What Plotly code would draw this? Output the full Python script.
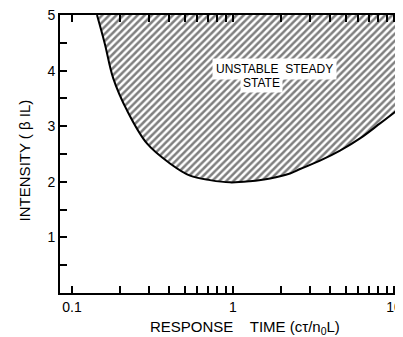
import numpy as np
import plotly.graph_objects as go

# Boundary of the unstable steady-state region
response_time = [0.143, 0.160, 0.180, 0.220, 0.292, 0.406, 0.541, 0.720, 0.958,
                 1.27, 1.70, 2.26, 2.61, 3.47, 4.62, 6.15, 8.19, 11.4]
intensity = [5.0, 4.48, 3.87, 3.28, 2.69, 2.33, 2.11, 2.03, 1.99,
             2.01, 2.06, 2.15, 2.23, 2.38, 2.56, 2.78, 3.05, 3.37]
intensity_max = 5.0

x_tickvals = [0.1, 0.2, 0.3, 0.4, 0.5, 0.6, 0.7, 0.8, 0.9,
              1, 2, 3, 4, 5, 6, 7, 8, 9, 10]
x_ticktext = ["0.1", "", "", "", "", "", "", "", "",
              "1", "", "", "", "", "", "", "", "", "10"]
y_tickvals = [0.5, 1, 1.5, 2, 2.5, 3, 3.5, 4, 4.5, 5]
y_ticktext = ["", "1", "", "2", "", "3", "", "4", "", "5"]

FONT = "Liberation Sans, Arial, sans-serif"

fig = go.Figure()
fig.add_trace(go.Scatter(x=response_time, y=[intensity_max] * len(response_time),
                         mode="lines", line=dict(color="black", width=0),
                         showlegend=False, hoverinfo="skip"))
fig.add_trace(go.Scatter(x=response_time, y=intensity, mode="lines",
                         line=dict(color="black", width=2, shape="spline"),
                         fill="tonexty", fillcolor="white",
                         fillpattern=dict(shape="/", size=5, solidity=0.5,
                                          fgcolor="black", bgcolor="white"),
                         showlegend=False))
# invisible trace to attach right-hand tick axis
fig.add_trace(go.Scatter(x=[response_time[0]], y=[intensity_max], yaxis="y2",
                         mode="markers", marker=dict(opacity=0),
                         showlegend=False, hoverinfo="skip"))

fig.add_annotation(x=np.log10(1.82), y=4.03, xref="x", yref="y",
                   text="UNSTABLE  STEADY", showarrow=False,
                   font=dict(family=FONT, size=12, color="black"),
                   bgcolor="white", borderpad=3)
fig.add_annotation(x=np.log10(1.51), y=3.78, xref="x", yref="y",
                   text="STATE", showarrow=False,
                   font=dict(family=FONT, size=12, color="black"),
                   bgcolor="white", borderpad=2)

# axis titles
fig.add_annotation(x=0.539, y=-0.125, xref="paper", yref="paper",
                   xanchor="center", yanchor="middle",
                   text="RESPONSE&nbsp;&nbsp;&nbsp; TIME (cτ/n<sub>0</sub>L)",
                   showarrow=False, font=dict(family=FONT, size=15, color="black"))
fig.add_annotation(x=-0.105, y=0.477, xref="paper", yref="paper",
                   xanchor="center", yanchor="middle",
                   text="INTENSITY ( β IL)", textangle=-90,
                   showarrow=False, font=dict(family=FONT, size=15, color="black"))

# page body has an 8px margin; the figure is sized/offset to compensate
fig.update_layout(
    width=395, height=329,
    margin=dict(l=52, r=0, t=7, b=44),
    paper_bgcolor="white", plot_bgcolor="white",
    font=dict(family=FONT, color="black"),
    xaxis=dict(type="log", range=[-1.0745, 1.056], automargin=False,
               tickvals=x_tickvals, ticktext=x_ticktext,
               ticklabeloverflow="allow",
               ticks="inside", ticklen=7, tickwidth=1.5, tickcolor="black",
               showline=True, linewidth=2, linecolor="black", mirror="ticks",
               showgrid=False, zeroline=False,
               tickfont=dict(size=14, family=FONT)),
    yaxis=dict(range=[0, 5], tickvals=y_tickvals, ticktext=y_ticktext,
               automargin=False, ticklabeloverflow="allow",
               ticks="inside", ticklen=7, tickwidth=1.5, tickcolor="black",
               showline=True, linewidth=2, linecolor="black",
               showgrid=False, zeroline=False,
               tickfont=dict(size=14, family=FONT)),
    yaxis2=dict(range=[0, 5], overlaying="y", side="right", anchor="x",
                automargin=False,
                tickvals=y_tickvals, ticks="inside", ticklen=5, tickwidth=1.5,
                tickcolor="black", showticklabels=False, showline=False,
                showgrid=False, zeroline=False),
)

fig.write_html("out.html")
